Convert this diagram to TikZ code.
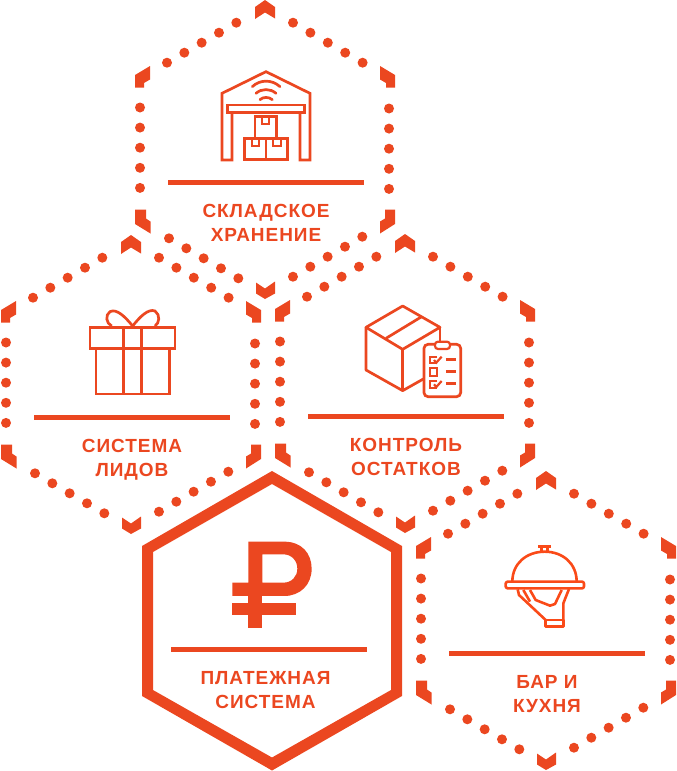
\documentclass[tikz,border=0pt]{standalone}
\usepackage{fontspec}
\setmainfont{Liberation Sans}[LetterSpace=5]
\definecolor{brand}{HTML}{EB4720}
\definecolor{cloche}{HTML}{FA4A18}
\tikzset{
  rulebar/.style={draw=brand,line width=5pt},
  label/.style={text=brand,font=\fontsize{19}{19}\selectfont\bfseries,anchor=base,inner sep=0pt},
  icon/.style={draw=brand,line width=2.7pt,line join=miter},
  thinicon/.style={draw=brand,line width=2.2pt},
}
\newcommand{\dothex}[2]{%
\begin{scope}[shift={(#1,#2)}]
  \foreach \i in {0,...,4}{
    \fill[brand] (-98+17.33*\i,-86.8-10*\i) circle (5);
    \fill[brand] (28+17.4*\i,-126.8+10*\i) circle (5);
    \fill[brand] (-96+17.33*\i,88.8+10*\i) circle (5);
    \fill[brand] (97.3-17.33*\i,87.2+10*\i) circle (5);
    \fill[brand] (-125,-42+20.1*\i) circle (5);
    \fill[brand] (124,-41+20.1*\i) circle (5);
  }
  \fill[brand] (0,-149.5)--(10,-142.5)--(10,-131)--(0,-137)--(-10,-130.5)--(-10,-142.5)--cycle;
  \fill[brand] (-9,133)--(0,139)--(10,132)--(10,144)--(0,149.5)--(-9,144)--cycle;
  \fill[brand] (-130,-74.5)--(-115,-83.5)--(-115,-70)--(-121,-66.5)--(-121,-62)--(-130,-62)--cycle;
  \fill[brand] (130,-74.5)--(115,-83.5)--(115,-70)--(121,-66.5)--(121,-62)--(130,-62)--cycle;
  \fill[brand] (-130,60)--(-119,60)--(-119,69)--(-114.5,72)--(-114.5,84)--(-130,74.5)--cycle;
  \fill[brand] (130,60)--(120,60)--(120,69)--(115,72)--(115,84)--(130,74.5)--cycle;
\end{scope}}
\begin{document}
\begin{tikzpicture}[x=1pt,y=-1pt]
\useasboundingbox (0,0) rectangle (677,771);
\dothex{265}{149.5}
\dothex{131}{384.5}
\dothex{405}{383.5}
\dothex{546}{620.5}
% solid hexagon
\fill[brand,even odd rule] (272,471)--(402,546)--(402,696)--(272,770.5)--(142,696)--(142,546)--cycle
  (272,484)--(391,552)--(391,690)--(272,757.5)--(153,690)--(153,552)--cycle;
% rules
\draw[rulebar] (168,182.3)--(364,182.3);
\draw[rulebar] (34,417.3)--(230,417.3);
\draw[rulebar] (308,416.3)--(504,416.3);
\draw[rulebar] (449,653.3)--(645,653.3);
\draw[rulebar] (171,649.7)--(367,649.7);
% labels
\node[label] (a1) at (266,217) {СКЛАДСКОЕ};
\node[label] (a2) at (266,241) {ХРАНЕНИЕ};
\node[label] (b1) at (132,452) {СИСТЕМА};
\node[label] (b2) at (132,476) {ЛИДОВ};
\node[label] (c1) at (406,451) {КОНТРОЛЬ};
\node[label] (c2) at (406,475) {ОСТАТКОВ};
\node[label] (d1) at (547,688) {БАР И};
\node[label] (d2) at (547,712) {КУХНЯ};
\node[label] (e1) at (265.5,684) {ПЛАТЕЖНАЯ};
\node[label] (e2) at (265.5,708) {СИСТЕМА};
% warehouse
\begin{scope}[shift={(210,65)},x=0.3333pt,y=-0.3333pt]
  \draw[icon] (66,145)--(66,285)--(36,285)--(36,85)--(168,20)--(300,85)--(300,285)--(270,285)--(270,145);
  \draw[icon] (52,120) rectangle (284,143);
  \draw[icon] (135,215)--(135,155)--(200,155)--(200,215);
  \draw[thinicon] (157,155)--(157,178)--(178,178)--(178,155);
  \draw[icon] (103,220) rectangle (233,283);
  \draw[icon] (168,220)--(168,283);
  \draw[thinicon] (125,220)--(125,243)--(147,243)--(147,220);
  \draw[thinicon] (190,220)--(190,243)--(212,243)--(212,220);
  \draw[icon,line cap=round] (127,65) .. controls (150,43) and (186,43) .. (210,65);
  \draw[icon,line cap=round] (138,85) .. controls (155,70) and (181,70) .. (198,85);
  \draw[icon,line cap=round] (150,104) .. controls (160,95) and (176,95) .. (187,104);
\end{scope}
% gift
\begin{scope}[shift={(80,300)},x=0.3333pt,y=-0.3333pt]
  \draw[icon] (30,82) rectangle (285,145);
  \draw[icon] (48,145)--(48,282)--(268,282)--(268,145);
  \draw[icon] (130,82)--(130,282) (185,82)--(185,282);
  \draw[icon] (158,78) .. controls (135,50) and (110,25) .. (90,35) .. controls (75,45) and (78,70) .. (95,78);
  \draw[icon] (158,78) .. controls (180,50) and (205,25) .. (225,33) .. controls (242,45) and (238,70) .. (225,78);
\end{scope}
% box and clipboard
\begin{scope}[shift={(360,300)},x=0.3333pt,y=-0.3333pt]
  \draw[icon,line join=round] (18,82)--(128,18)--(240,82)--(128,148)--cycle;
  \draw[icon,line join=round] (18,82)--(18,210)--(128,272)--(190,237);
  \draw[icon] (128,148)--(128,272);
  \draw[icon] (240,82)--(240,125);
  \draw[icon] (78,115)--(185,50);
  \draw[icon,rounded corners=4pt] (192,133) rectangle (302,290);
  \fill[white] (225,125) rectangle (270,147);
  \draw[thinicon,rounded corners=3pt,fill=white] (225,125) rectangle (270,147);
  \draw[thinicon] (232,170)--(210,170)--(210,190)--(232,190);
  \draw[thinicon] (222,180)--(229,188)--(245,170);
  \draw[icon] (258,178)--(287,178);
  \draw[thinicon] (210,205) rectangle (232,227);
  \draw[icon] (258,215)--(287,215);
  \draw[thinicon] (232,243)--(210,243)--(210,263)--(232,263);
  \draw[thinicon] (222,253)--(229,261)--(245,243);
  \draw[icon] (258,250)--(287,250);
\end{scope}
% cloche
\begin{scope}[shift={(495,540)},x=0.3333pt,y=-0.3333pt]
  \tikzset{cl/.style={draw=cloche,line width=2.6pt,line join=round}}
  \draw[cl,rounded corners=2pt] (32,125) rectangle (267,145);
  \draw[cl] (52,125) .. controls (52,70) and (95,35) .. (149,35) .. controls (203,35) and (245,70) .. (245,125);
  \draw[cl] (130,20)--(168,20) (140,20)--(140,35) (158,20)--(158,35);
  \draw[cl] (68,148)--(72,165)--(152,240);
  \draw[cl] (152,240) rectangle (205,260);
  \draw[cl] (205,240)--(205,190)--(222,147);
  \draw[cl] (105,150)--(122,180)--(165,197)--(180,192)--(200,150);
  \draw[cl] (85,150)--(105,185);
\end{scope}
% ruble
\begin{scope}[shift={(135,470)},x=0.3333pt,y=-0.3333pt]
  \fill[brand,even odd rule] (340,215)--(448,215) .. controls (500,215) and (530,250) .. (530,296) .. controls (530,345) and (495,378) .. (448,378)--(292,378)--(292,338)--(340,338)--cycle
    (382,253)--(445,253) .. controls (470,253) and (487,272) .. (487,296) .. controls (487,320) and (470,338) .. (445,338)--(382,338)--cycle;
  \fill[brand] (340,378) rectangle (382,475);
  \fill[brand] (292,400) rectangle (483,435);
\end{scope}
\end{tikzpicture}
\end{document}
